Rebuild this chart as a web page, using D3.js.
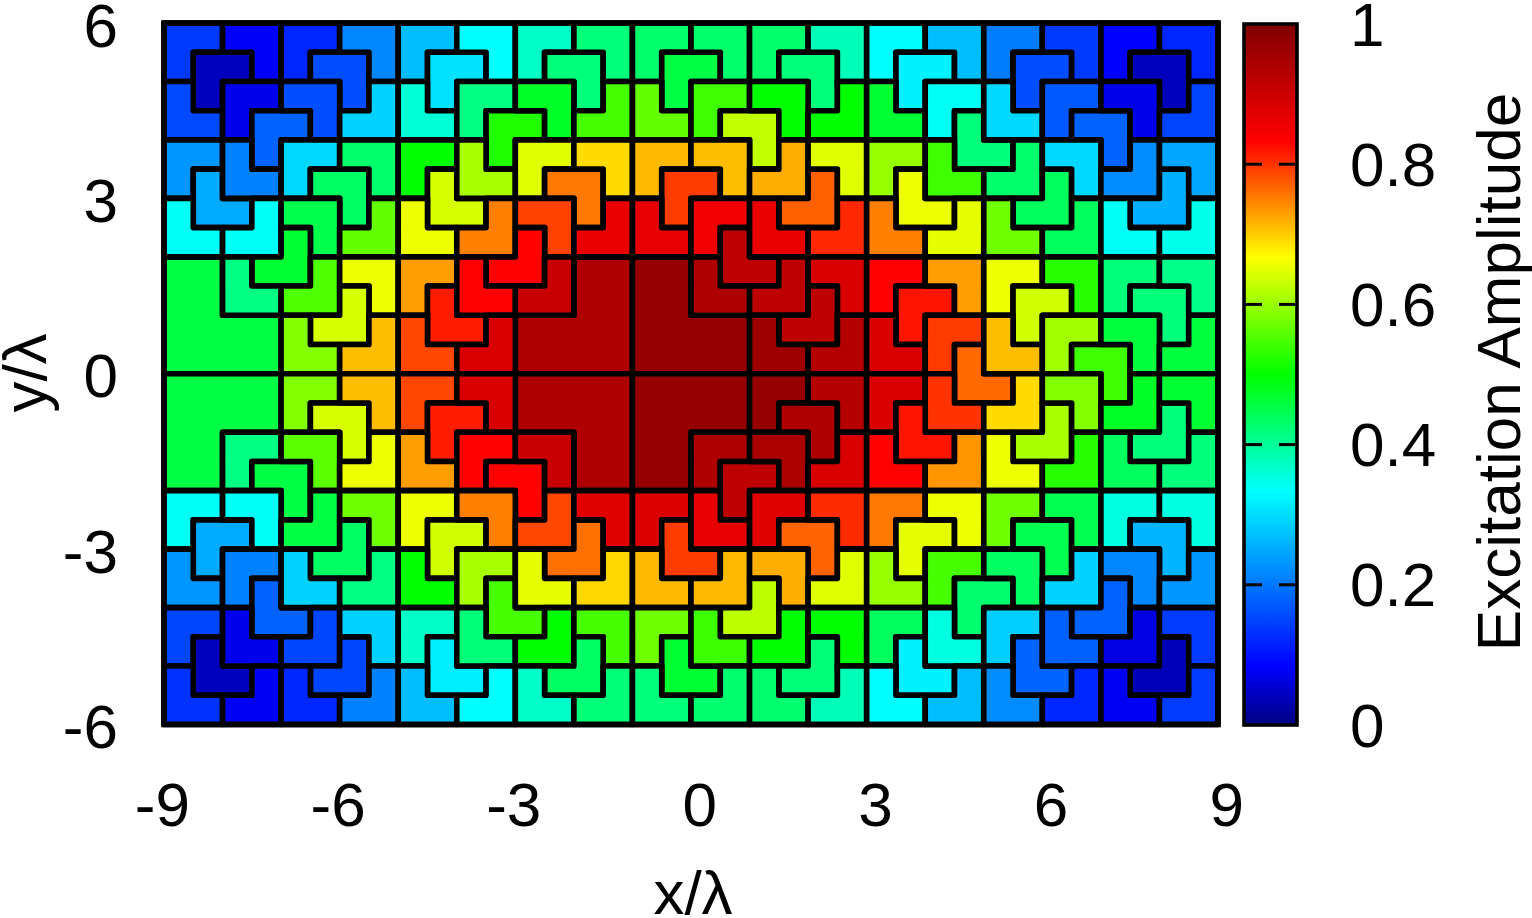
<!DOCTYPE html>
<html>
<head>
<meta charset="utf-8">
<script src="https://cdn.jsdelivr.net/npm/d3@7"></script>
<style>
    html, body { margin: 0; padding: 0; background: #fff; overflow: hidden; }
    text { font-family: "Liberation Sans", Arial, sans-serif; fill: #000; }
</style>
</head>
<body>
<div id="SVG_CONTAINER"></div>
<script>
// axis ticks
const xTicks = [-9, -6, -3, 0, 3, 6, 9];
const yTicks = [-6, -3, 0, 3, 6];
const colorTicks = [0, 0.2, 0.4, 0.6, 0.8, 1];
const colorMarks = [0.2, 0.4, 0.6, 0.8];

// palette of the colour bar
const paletteStops = [0, 1 / 12, 1 / 3, 1 / 2, 2 / 3, 5 / 6, 1];
const paletteColors = ["#000080", "#0000ff", "#00ffff", "#00ff00", "#ffff00", "#ff0000", "#800000"];

// tiles: [column, row, missing corner, excitation amplitude]
// column and row count half wavelengths from the top left element
const rows0 = [[0,0,"BR",.14],[1,1,"BR",.04],[2,0,"BL",.08],[4,0,"BR",.12],[5,1,"BL",.16],[6,0,"BL",.215],[8,0,"BR",.27],[9,1,"BR",.305],[10,0,"BL",.333],[12,0,"BR",.37],[13,1,"BL",.42],[14,0,"BL",.42],[16,0,"BR",.43],[17,1,"BR",.455],[18,0,"BL",.43],[20,0,"BR",.43],[21,1,"BL",.42],[22,0,"BL",.38],[24,0,"BR",.333],[25,1,"BR",.32],[26,0,"BL",.27],[28,0,"BR",.205],[29,1,"BR",.16],[30,0,"BL",.14],[32,0,"BR",.083],[33,1,"BL",.04],[34,0,"BL",.122]];
const rows2 = [[0,2,"TR",.155],[2,2,"BR",.07],[3,3,"BR",.18],[4,2,"BL",.16],[6,2,"TL",.29],[8,2,"TR",.36],[10,2,"BR",.415],[11,3,"BR",.52],[12,2,"BL",.475],[14,2,"TL",.545],[16,2,"TR",.565],[18,2,"BR",.54],[19,3,"BL",.625],[20,2,"BL",.5],[22,2,"TL",.5],[24,2,"TR",.467],[26,2,"BR",.34],[27,3,"TR",.42],[28,2,"TR",.295],[30,2,"BR",.17],[31,3,"BL",.18],[32,2,"BL",.07],[34,2,"TL",.15]];
const rows4 = [[0,4,"BR",.23],[1,5,"TR",.25],[2,4,"TR",.21],[4,4,"BR",.295],[5,5,"BL",.435],[6,4,"BL",.43],[8,4,"BR",.5],[9,5,"TR",.64],[10,4,"TR",.61],[12,4,"BR",.647],[13,5,"BL",.755],[14,4,"BL",.69],[16,4,"BR",.712],[17,5,"BR",.795],[18,4,"BL",.71],[20,4,"TL",.72],[21,5,"TL",.77],[22,4,"BL",.647],[24,4,"BR",.598],[25,5,"TR",.655],[26,4,"TR",.54],[28,4,"TL",.43],[29,5,"TL",.44],[30,4,"BL",.295],[32,4,"TL",.22],[33,5,"TL",.255],[34,4,"BL",.245]];
const rows6 = [[0,6,"TR",.34],[2,6,"TL",.34],[4,6,"BL",.45],[3,7,"TL",.467],[6,6,"TL",.565],[8,6,"TR",.655],[10,6,"TL",.75],[12,6,"BL",.79],[11,7,"TL",.833],[14,6,"TL",.86],[16,6,"TR",.865],[18,6,"BR",.853],[19,7,"TR",.92],[20,6,"TR",.86],[22,6,"TL",.807],[24,6,"TR",.75],[26,6,"TL",.65],[28,6,"TR",.572],[30,6,"TL",.44],[32,6,"TR",.34],[34,6,"TL",.345]];
const rows8 = [[2,8,"TR",.415],[4,8,"TL",.55],[6,8,"BL",.655],[5,9,"TL",.64],[8,8,"BR",.73],[9,9,"TR",.815],[10,8,"TR",.833],[12,8,"TL",.905],[18,8,"TR",.94],[20,8,"TL",.92],[22,8,"BL",.885],[21,9,"TL",.92],[24,8,"BR",.833],[25,9,"BR",.82],[26,8,"BL",.73],[28,8,"BR",.655],[29,9,"BR",.635],[30,8,"BL",.525],[32,8,"BR",.42],[33,9,"BL",.42],[34,8,"BL",.41]];
const rows10 = [[4,10,"TR",.585],[6,10,"TL",.71],[8,10,"TR",.787],[10,10,"TL",.885],[20,10,"TR",.96],[22,10,"TL",.93],[24,10,"TR",.885],[26,10,"BR",.795],[27,11,"TR",.765],[28,10,"TR",.71],[30,10,"BR",.605],[31,11,"BL",.54],[32,10,"BL",.46],[34,10,"TL",.46]];
const rows12 = [[4,12,"BR",.585],[5,13,"BL",.64],[6,12,"BL",.71],[8,12,"BR",.787],[9,13,"BR",.815],[10,12,"BL",.885],[20,12,"BR",.97],[21,13,"BL",.94],[22,12,"BL",.93],[24,12,"BR",.88],[26,12,"TR",.8],[25,13,"TR",.82],[28,12,"TL",.69],[29,13,"TL",.61],[30,12,"BL",.585],[32,12,"TL",.475],[33,13,"TL",.42],[34,12,"BL",.467]];
const rows14 = [[2,14,"BR",.415],[3,15,"BL",.455],[4,14,"BL",.56],[6,14,"TL",.655],[8,14,"TR",.73],[10,14,"BR",.833],[11,15,"BL",.833],[12,14,"BL",.905],[18,14,"BR",.94],[19,15,"BR",.92],[20,14,"BL",.945],[22,14,"TL",.885],[24,14,"TR",.833],[26,14,"TL",.735],[28,14,"TR",.655],[30,14,"TL",.525],[32,14,"TR",.44],[34,14,"TL",.42]];
const rows16 = [[0,16,"BR",.34],[1,17,"BR",.25],[2,16,"BL",.34],[4,16,"TL",.455],[5,17,"TL",.435],[6,16,"BL",.572],[8,16,"BR",.655],[9,17,"BR",.635],[10,16,"BL",.75],[12,16,"TL",.787],[13,17,"TL",.76],[14,16,"BL",.873],[16,16,"BR",.878],[17,17,"TR",.795],[18,16,"TR",.866],[20,16,"BR",.873],[21,17,"BL",.768],[22,16,"BL",.805],[24,16,"BR",.755],[25,17,"BR",.65],[26,16,"BL",.655],[28,16,"BR",.572],[29,17,"BL",.448],[30,16,"BL",.448],[32,16,"BR",.353],[33,17,"BL",.26],[34,16,"BL",.353]];
const rows18 = [[0,18,"TR",.23],[2,18,"BR",.21],[3,19,"TR",.18],[4,18,"TR",.29],[6,18,"TL",.415],[8,18,"TR",.5],[10,18,"BR",.61],[11,19,"TR",.546],[12,18,"TR",.65],[14,18,"TL",.693],[16,18,"TR",.712],[18,18,"TL",.712],[20,18,"BL",.72],[19,19,"TL",.624],[22,18,"TL",.647],[24,18,"TR",.598],[26,18,"BR",.546],[27,19,"BR",.428],[28,18,"BL",.435],[30,18,"TL",.29],[32,18,"BL",.215],[31,19,"TL",.18],[34,18,"TL",.23]];
const rows20 = [[0,20,"BR",.152],[1,21,"TR",.04],[2,20,"TR",.07],[4,20,"TL",.152],[5,21,"TL",.152],[6,20,"BL",.289],[8,20,"BR",.369],[9,21,"TR",.315],[10,20,"TR",.421],[12,20,"TL",.5],[14,20,"BL",.546],[13,21,"TL",.435],[16,20,"BR",.572],[17,21,"TR",.467],[18,20,"TR",.539],[20,20,"TL",.5],[21,21,"TL",.421],[22,20,"BL",.5],[24,20,"BR",.44],[25,21,"TR",.32],[26,20,"TR",.353],[28,20,"BR",.285],[29,21,"TR",.181],[30,20,"TR",.176],[32,20,"TL",.064],[33,21,"TL",.037],[34,20,"BL",.142]];
const rows22 = [[0,22,"TR",.132],[2,22,"TL",.076],[4,22,"TR",.122],[6,22,"TL",.21],[8,22,"TR",.27],[10,22,"TL",.333],[12,22,"TR",.369],[14,22,"TL",.421],[16,22,"TR",.42],[18,22,"TL",.428],[20,22,"TR",.428],[22,22,"TL",.38],[24,22,"TR",.333],[26,22,"TL",.27],[28,22,"TR",.22],[30,22,"TL",.122],[32,22,"TR",.076],[34,22,"TL",.142]];

// the six double sized tiles in the middle of the array
const bigTiles = [[0,8,"TR",.455],[12,8,"TL",.94],[16,8,"TR",.97],[0,12,"BR",.455],[12,12,"BL",.94],[16,12,"BR",.97]];

// corners of an L shaped tile, by the corner it misses
const CORNERS = {
    "BR": [[0,0],[2,0],[2,1],[1,1],[1,2],[0,2]],
    "BL": [[0,0],[2,0],[2,2],[1,2],[1,1],[0,1]],
    "TR": [[0,0],[1,0],[1,1],[2,1],[2,2],[0,2]],
    "TL": [[1,0],[2,0],[2,2],[0,2],[0,1],[1,1]],
};

const width = 1532, height = 918;
const LINE = 5.6;
const FONT = 62;

const svg = d3.select("#SVG_CONTAINER")
    .append("svg")
    .attr("width", width)
    .attr("height", height);

const x = d3.scaleLinear().domain([-9, 9]).range([164, 1218]);
const y = d3.scaleLinear().domain([-6, 6]).range([724.5, 23]);
const amp = d3.scaleLinear().domain([0, 1]).range([725, 24]);
const color = d3.scaleLinear().domain(paletteStops).range(paletteColors);

// one tile outline, going from half wavelength indices to the x/y scales
const tileLine = d3.line()
    .x(d => x(-9 + d[0] / 2))
    .y(d => y(6 - d[1] / 2));

function tilePath(tile, scale) {
    return tileLine(CORNERS[tile[2]].map(c => [tile[0] + c[0] * scale, tile[1] + c[1] * scale])) + "Z";
}

const smallTiles = [].concat(rows0, rows2, rows4, rows6, rows8, rows10, rows12, rows14, rows16, rows18, rows20, rows22);

const tiles = svg.append("g")
    .attr("stroke", "#000")
    .attr("stroke-width", LINE)
    .attr("stroke-linejoin", "round");

tiles.selectAll("path.big")
    .data(bigTiles)
    .enter()
    .append("path")
    .attr("class", "big")
    .attr("d", d => tilePath(d, 2))
    .attr("fill", d => color(d[3]));

tiles.selectAll("path.small")
    .data(smallTiles)
    .enter()
    .append("path")
    .attr("class", "small")
    .attr("d", d => tilePath(d, 1))
    .attr("fill", d => color(d[3]));

// frame
svg.append("rect")
    .attr("x", x(-9))
    .attr("y", y(6))
    .attr("width", x(9) - x(-9))
    .attr("height", y(-6) - y(6))
    .attr("fill", "none")
    .attr("stroke", "#000")
    .attr("stroke-width", LINE);

// x and y tick labels
const xAxis = svg.append("g")
    .attr("transform", "translate(0," + y(-6) + ")")
    .call(d3.axisBottom(x).tickValues(xTicks).tickSize(0).tickPadding(57).tickFormat(d => String(d)));
xAxis.select(".domain").remove();
xAxis.selectAll("text")
    .attr("text-anchor", "end")
    .attr("dx", 25.5)
    .style("font-size", FONT + "px");

const yAxis = svg.append("g")
    .attr("transform", "translate(" + x(-9) + ",0)")
    .call(d3.axisLeft(y).tickValues(yTicks).tickSize(0).tickPadding(46).tickFormat(d => String(d)));
yAxis.select(".domain").remove();
yAxis.selectAll("text")
    .attr("dy", 23)
    .style("font-size", FONT + "px");

// colour bar
const gradient = svg.append("defs")
    .append("linearGradient")
    .attr("id", "palette")
    .attr("x1", 0).attr("y1", 1)
    .attr("x2", 0).attr("y2", 0);
gradient.selectAll("stop")
    .data(paletteStops)
    .enter()
    .append("stop")
    .attr("offset", d => d)
    .attr("stop-color", d => color(d));

const BAR_LEFT = 1244, BAR_RIGHT = 1297;

svg.append("rect")
    .attr("x", BAR_LEFT)
    .attr("y", amp(1))
    .attr("width", BAR_RIGHT - BAR_LEFT)
    .attr("height", amp(0) - amp(1))
    .attr("fill", "url(#palette)")
    .attr("stroke", "#000")
    .attr("stroke-width", 3.6);

// inward ticks on both sides of the bar
[[BAR_LEFT, BAR_LEFT + 18], [BAR_RIGHT - 18, BAR_RIGHT]].forEach(function (side) {
    svg.selectAll("line.side" + side[0])
        .data(colorMarks)
        .enter()
        .append("line")
        .attr("class", "side" + side[0])
        .attr("x1", side[0])
        .attr("x2", side[1])
        .attr("y1", d => amp(d))
        .attr("y2", d => amp(d))
        .attr("stroke", "#000")
        .attr("stroke-width", 3);
});

const colorAxis = svg.append("g")
    .attr("transform", "translate(" + BAR_RIGHT + ",0)")
    .call(d3.axisRight(amp).tickValues(colorTicks).tickSize(0).tickPadding(53).tickFormat(d => String(d)));
colorAxis.select(".domain").remove();
colorAxis.selectAll("text")
    .attr("dy", 21)
    .style("font-size", FONT + "px");

// axis titles
svg.append("text")
    .attr("x", 693)
    .attr("y", 914)
    .attr("text-anchor", "middle")
    .style("font-size", FONT + "px")
    .text("x/λ");

svg.append("text")
    .attr("transform", "translate(46,373) rotate(-90)")
    .attr("text-anchor", "middle")
    .style("font-size", FONT + "px")
    .text("y/λ");

svg.append("text")
    .attr("transform", "translate(1520,372) rotate(-90)")
    .attr("text-anchor", "middle")
    .style("font-size", FONT + "px")
    .text("Excitation Amplitude");
</script>
</body>
</html>
